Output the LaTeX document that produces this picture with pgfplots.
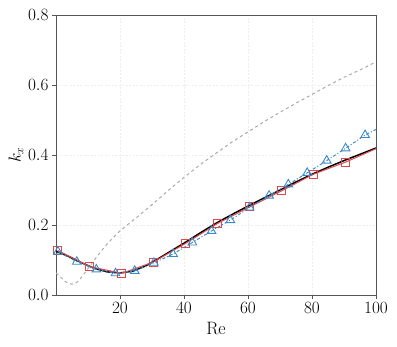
\documentclass[border=0pt]{standalone}
\usepackage{pgfplots}
\pgfplotsset{compat=1.18}
\definecolor{redline}{HTML}{DE4A4C}
\definecolor{blueline}{HTML}{3A8AC6}
\definecolor{greyline}{HTML}{AAAAAA}
\definecolor{axisgrey}{HTML}{555555}

\begin{document}
\begin{tikzpicture}
\begin{axis}[
  scale only axis,
  width=320bp,height=280bp,
  xmin=0,xmax=100,ymin=0,ymax=0.8,
  xtick={20,40,60,80,100},
  ytick={0,0.2,0.4,0.6,0.8},
  yticklabel style={/pgf/number format/.cd,fixed,fixed zerofill,precision=1},
  xlabel={Re},
  ylabel={$k_x$},
  tick label style={font=\fontsize{18}{22}\selectfont},
  label style={font=\fontsize{18}{22}\selectfont},
  xlabel style={at={(axis description cs:0.5,-0.121)},anchor=center},
  ylabel style={at={(axis description cs:-0.125,0.5)},anchor=center},
  axis line style={axisgrey,line width=0.9pt},
  tick style={axisgrey,line width=0.7pt},
  tick align=outside,
  major tick length=4bp,
  xtick pos=bottom, ytick pos=left,
  grid=major,
  grid style={gray!14,dash pattern=on 2pt off 1.5pt,line width=0.5pt},
  clip=true,
]
% grey dashed
\addplot[greyline,dashed,line width=1pt] coordinates {
 (0,0.063) (1,0.055) (2,0.046) (3,0.038) (4,0.033) (5,0.031) (6,0.033) (7,0.040)
 (8,0.051) (9,0.063) (10,0.076) (12,0.100) (14,0.124) (16,0.146) (18,0.165)
 (20,0.183) (22,0.198) (25,0.220) (30,0.258) (35,0.298) (40,0.336) (45,0.372)
 (50,0.405) (55,0.437) (60,0.466) (65,0.495) (70,0.522) (75,0.548) (80,0.573)
 (85,0.598) (90,0.622) (95,0.643) (100,0.666)};
% black reference
\addplot[black,line width=1.5pt] coordinates {
 (0,0.125) (4,0.110) (8,0.092) (12,0.076) (16,0.066) (20,0.063) (24,0.068)
 (28,0.083) (32,0.104) (36,0.126) (40,0.148) (45,0.177) (50,0.205) (55,0.230)
 (60,0.254) (65,0.277) (70,0.300) (75,0.323) (80,0.345) (85,0.365) (90,0.384)
 (95,0.402) (100,0.420)};
% red squares
\addplot[redline,line width=1pt,mark=square,mark size=4bp,mark indices={1,...,10},
  mark options={solid,line width=0.9pt}] coordinates {
 (0.6,0.127) (10.6,0.081) (20.6,0.062) (30.4,0.094) (40.6,0.148) (50.6,0.205)
 (60.6,0.252) (70.6,0.298) (80.4,0.345) (90.6,0.380) (100,0.418)};
% blue triangles
\addplot[blueline,line width=1pt,dash dot,mark=triangle,mark size=5bp,mark indices={1,...,17},
  mark options={solid,line width=0.9pt}] coordinates {
 (0.6,0.124) (6.5,0.095) (12.6,0.073) (18.6,0.062) (24.6,0.069) (30.6,0.092)
 (36.6,0.117) (42.6,0.150) (48.6,0.183) (54.5,0.214) (60.5,0.250) (66.6,0.284)
 (72.6,0.316) (78.5,0.349) (84.6,0.384) (90.5,0.419) (96.6,0.457) (100,0.473)};
\end{axis}
\path (current axis.south west) ++(-56bp,-52bp);
\path (current axis.north east) ++(21bp,15bp);
\end{tikzpicture}
\end{document}
